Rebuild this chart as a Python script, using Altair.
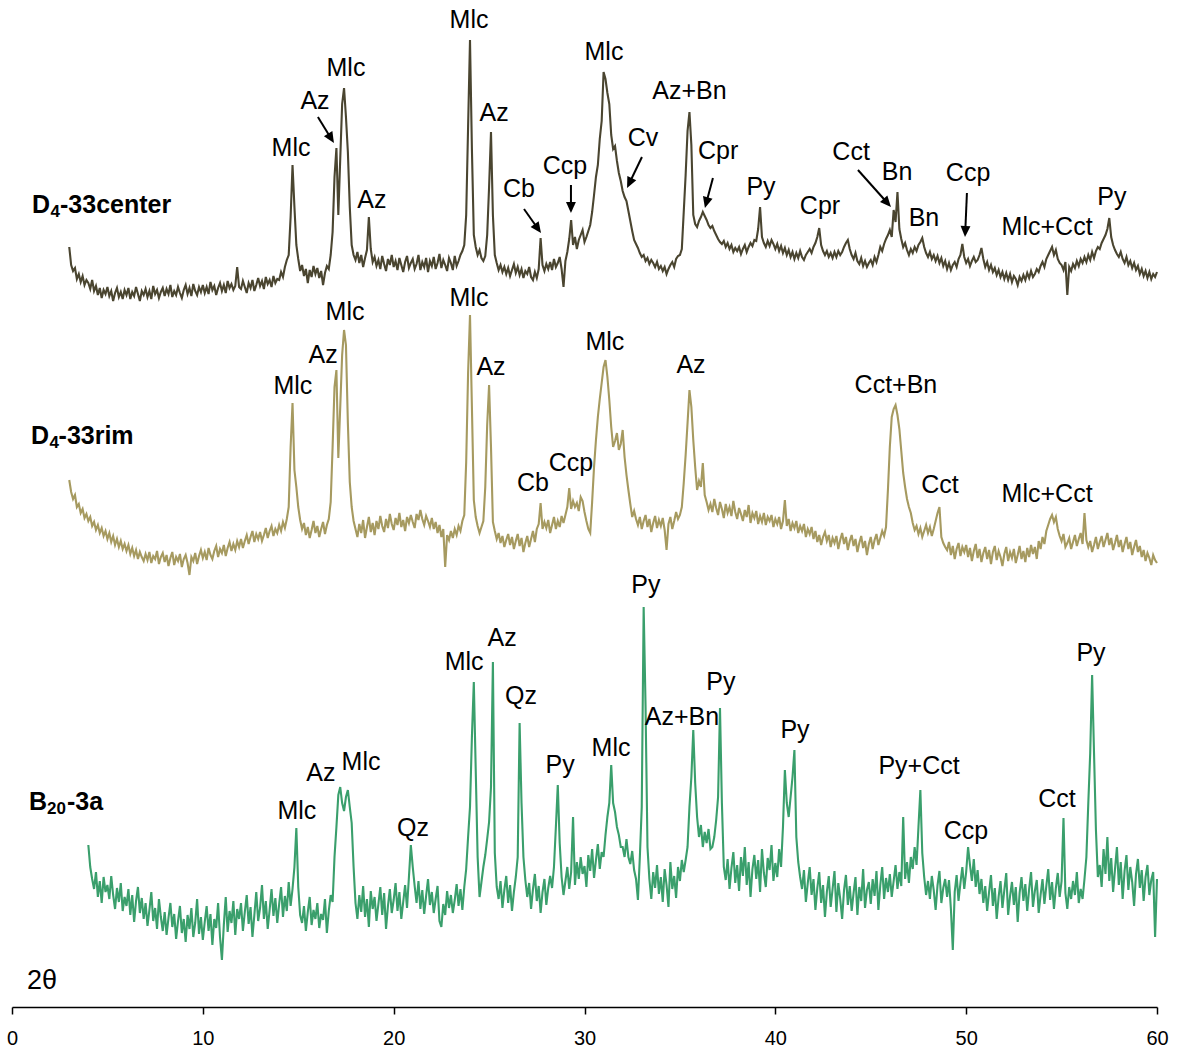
import math
import altair as alt
import pandas as pd

# ---------------- data (stacked XRD patterns, arbitrary intensity units) ----------------
STEP = 0.1  # scan step in degrees 2-theta

center_start = 3.0
center_counts = [
    760, 742, 736, 739, 728, 733, 725, 731, 722, 727,
    724, 718, 727, 716, 721, 712, 719, 709, 717, 713,
    720, 711, 716, 706, 714, 719, 710, 715, 708, 717,
    712, 719, 708, 715, 711, 720, 713, 706, 716, 712,
    718, 710, 716, 708, 721, 713, 717, 709, 715, 719,
    711, 718, 713, 722, 710, 716, 712, 720, 714, 709,
    717, 722, 713, 719, 711, 723, 716, 712, 720, 715,
    722, 714, 720, 713, 725, 717, 721, 712, 719, 724,
    716, 722, 714, 726, 719, 723, 717, 721, 740, 720,
    718, 726, 720, 714, 724, 719, 727, 716, 722, 729,
    721, 726, 718, 730, 723, 727, 720, 731, 724, 728,
    727, 735, 730, 740, 747, 752, 790, 842, 800, 762,
    748, 736, 742, 731, 738, 724, 737, 730, 741, 733,
    739, 729, 736, 722, 734, 741, 738, 752, 775, 830,
    859, 792, 848, 903, 919, 890, 855, 800, 762, 752,
    747, 755, 744, 752, 740, 749, 757, 790, 758, 745,
    750, 741, 747, 738, 751, 743, 736, 748, 742, 752,
    740, 746, 737, 749, 742, 735, 745, 751, 739, 744,
    748, 738, 743, 752, 737, 745, 740, 749, 735, 746,
    741, 750, 738, 744, 753, 739, 747, 742, 736, 749,
    744, 737, 751, 741, 746, 752, 756, 762, 792, 880,
    967, 858, 772, 760, 752, 757, 749, 746, 751, 772,
    820, 875, 792, 752, 744, 737, 742, 735, 740, 733,
    739, 731, 737, 743, 734, 740, 732, 738, 729, 736,
    733, 740, 730, 727, 735, 729, 738, 769, 742, 736,
    743, 738, 745, 737, 748, 740, 744, 750, 738, 720,
    746, 755, 768, 787, 762, 770, 758, 767, 772, 777,
    765, 770, 776, 782, 795, 812, 830, 842, 868, 886,
    935, 928, 914, 903, 872, 858, 861, 846, 834, 826,
    816, 810, 806, 796, 786, 776, 767, 763, 759, 754,
    750, 752, 746, 749, 743, 747, 744, 740, 745, 738,
    741, 736, 740, 733, 738, 742, 745, 740, 748, 751,
    752, 758, 795, 832, 876, 895, 862, 792, 783, 780,
    786, 790, 795, 791, 787, 782, 779, 781, 776, 772,
    768, 765, 763, 766, 760, 764, 758, 762, 755, 759,
    756, 760, 753, 758, 762, 755, 760, 764, 761, 767,
    766, 778, 800, 770, 764, 760, 766, 761, 767, 763,
    758, 763, 756, 761, 754, 759, 752, 757, 750, 755,
    748, 754, 749, 756, 750, 747, 752, 755, 758, 754,
    760, 764, 770, 779, 762, 756, 752, 756, 750, 754,
    749, 755, 750, 756, 752, 755, 760, 764, 767, 758,
    752, 748, 754, 746, 743, 749, 741, 746, 740, 744,
    747, 742, 750, 745, 752, 760, 756, 763, 768, 772,
    777, 770, 797, 785, 815, 778, 768, 760, 764, 757,
    752, 758, 754, 760, 756, 762, 765, 769, 760, 754,
    750, 755, 748, 752, 746, 751, 744, 749, 741, 746,
    738, 744, 737, 742, 745, 740, 748, 752, 763, 750,
    744, 748, 741, 746, 750, 745, 747, 752, 759, 748,
    740, 745, 737, 742, 735, 739, 732, 737, 730, 735,
    728, 734, 727, 733, 725, 731, 728, 722, 730, 726,
    732, 727, 734, 729, 736, 730, 733, 738, 735, 741,
    745, 740, 748, 752, 756, 760, 752, 757, 748, 744,
    742, 737, 745, 712, 740, 736, 743, 739, 746, 741,
    748, 744, 750, 745, 752, 747, 755, 749, 756, 760,
    758, 764, 768, 772, 778, 789, 770, 762, 757, 753,
    750, 755, 748, 744, 750, 742, 746, 739, 744, 737,
    741, 733, 738, 731, 736, 729, 735, 728, 733, 730,
    735,
]

rim_start = 3.0
rim_counts = [
    527, 515, 508, 512, 500, 503, 494, 498, 489, 493,
    486, 490, 481, 485, 477, 482, 474, 479, 471, 476,
    468, 474, 465, 471, 462, 468, 460, 466, 458, 463,
    456, 462, 453, 459, 451, 457, 448, 455, 450, 446,
    453, 447, 455, 444, 451, 448, 456, 443, 450, 454,
    445, 452, 441, 449, 455, 442, 450, 446, 453, 440,
    448, 452, 444, 432, 450, 446, 454, 443, 451, 457,
    449, 455, 447, 459, 452, 448, 456, 461, 450, 458,
    454, 462, 451, 459, 465, 456, 463, 457, 466, 460,
    468, 459, 466, 472, 463, 470, 476, 465, 473, 468,
    475, 466, 472, 479, 469, 476, 481, 471, 478, 474,
    482, 476, 485, 479, 488, 500, 560, 604, 537, 520,
    500, 487, 478, 484, 472, 480, 469, 477, 486, 474,
    481, 470, 478, 485, 473, 482, 488, 505, 560, 620,
    637, 549, 600, 652, 677, 662, 584, 525, 500, 486,
    478, 470, 483, 474, 487, 469, 480, 490, 475, 484,
    472, 486, 478, 491, 481, 475, 488, 479, 493, 483,
    477, 489, 482, 494, 480, 487, 476, 490, 484, 492,
    485, 479, 493, 487, 497, 488, 482, 491, 486, 480,
    489, 478, 485, 474, 482, 470, 478, 440, 472, 467,
    476, 469, 478, 472, 481, 476, 486, 492, 545, 634,
    692, 600, 507, 490, 481, 474, 480, 486, 520, 582,
    622, 560, 485, 476, 468, 474, 464, 471, 460, 467,
    473, 462, 470, 458, 466, 473, 461, 469, 455, 464,
    471, 460, 468, 476, 465, 478, 483, 504, 478, 485,
    479, 487, 474, 482, 490, 478, 486, 480, 491, 484,
    492, 500, 519, 498, 506, 500, 504, 496, 510, 506,
    495, 486, 478, 474, 505, 540, 567, 590, 608, 624,
    640, 647, 630, 607, 580, 560, 566, 574, 557, 563,
    577, 550, 532, 517, 503, 490, 496, 488, 482, 490,
    478, 486, 492, 480, 488, 475, 484, 491, 479, 487,
    481, 489, 477, 457, 483, 490, 478, 486, 495, 488,
    492, 500, 524, 552, 584, 617, 600, 567, 540, 517,
    526, 520, 544, 512, 505, 497, 503, 495, 508, 499,
    492, 505, 498, 489, 503, 494, 500, 491, 506, 495,
    488, 499, 493, 486, 497, 490, 502, 484, 494, 489,
    496, 483, 491, 485, 494, 482, 490, 486, 492, 480,
    488, 483, 490, 478, 486, 507, 481, 488, 476, 484,
    479, 486, 474, 481, 476, 483, 470, 478, 473, 480,
    468, 476, 465, 472, 462, 470, 475, 466, 472, 460,
    469, 464, 471, 458, 467, 474, 463, 470, 457, 466,
    472, 461, 468, 455, 464, 471, 459, 466, 452, 463,
    470, 458, 467, 473, 462, 469, 476, 471, 480, 517,
    560, 590, 598, 602, 592, 578, 556, 534, 520, 508,
    500, 494, 484, 477, 481, 473, 479, 470, 476, 482,
    474, 480, 471, 478, 486, 494, 500, 470, 464, 460,
    457, 465, 452, 461, 448, 458, 464, 451, 460, 455,
    462, 450, 459, 446, 456, 463, 449, 458, 445, 454,
    460, 448, 457, 443, 455, 461, 447, 456, 450, 441,
    453, 460, 446, 455, 449, 458, 444, 452, 461, 448,
    456, 445, 459, 450, 462, 453, 460, 448, 466, 458,
    470, 463, 476, 482, 488, 492, 485, 490, 478, 471,
    466, 473, 460, 464, 469, 458, 465, 472, 461, 468,
    474, 463, 494, 467, 460, 466, 455, 462, 470, 458,
    465, 471, 460, 467, 474, 462, 469, 457, 464, 472,
    460, 467, 455, 463, 470, 458, 465, 452, 460, 467,
    455, 461, 450, 457, 446, 454, 449, 442, 452, 447,
    444,
]

b20_start = 4.0
b20_counts = [
    162, 140, 128, 118, 135, 110, 126, 104, 130, 115,
    122, 108, 131, 112, 98, 119, 105, 124, 96, 110,
    101, 118, 92, 112, 85, 106, 120, 94, 109, 88,
    104, 81, 97, 115, 86, 99, 78, 108, 90, 76,
    95, 72, 89, 104, 80, 93, 68, 86, 101, 74,
    88, 65, 92, 78, 99, 70, 84, 108, 73, 90,
    67, 85, 101, 76, 93, 62, 88, 79, 104, 70,
    47, 82, 110, 75, 96, 84, 106, 72, 98, 88,
    104, 76, 95, 112, 83, 100, 70, 92, 115, 86,
    99, 122, 88, 106, 78, 97, 118, 91, 109, 84,
    103, 120, 90, 111, 96, 125, 101, 118, 140, 179,
    120, 92, 84, 101, 76, 95, 110, 82, 97, 88,
    104, 79, 93, 87, 108, 74, 96, 112, 105, 150,
    180, 212, 220, 204, 196, 210, 217, 200, 184, 140,
    104, 88, 112, 95, 121, 90, 108, 80, 116, 98,
    110, 86, 103, 120, 92, 114, 78, 101, 118, 94,
    107, 124, 96, 115, 88, 105, 122, 99, 130, 162,
    140, 121, 104, 126, 98, 117, 93, 111, 128, 102,
    115, 94, 108, 121, 86, 80, 103, 92, 116, 99,
    112, 94, 107, 123, 101, 118, 97, 120, 138, 170,
    200, 270, 325, 237, 150, 110, 125, 140, 152, 168,
    185, 220, 345, 154, 120, 108, 126, 99, 117, 131,
    104, 122, 96, 115, 130, 150, 284, 204, 150, 127,
    110, 124, 98, 118, 133, 106, 121, 94, 115, 128,
    102, 119, 131, 119, 140, 180, 222, 164, 130, 112,
    126, 140, 118, 135, 190, 122, 145, 128, 150, 133,
    141, 120, 152, 136, 158, 129, 147, 163, 138, 155,
    150, 172, 190, 204, 242, 204, 195, 180, 172, 160,
    160, 150, 168, 150, 143, 156, 137, 128, 107, 150,
    200, 400, 300, 160, 128, 108, 135, 119, 142, 113,
    130, 105, 138, 122, 100, 145, 118, 131, 109, 140,
    126, 147, 135, 147, 160, 200, 230, 277, 224, 190,
    170, 182, 160, 175, 164, 178, 158, 160, 170, 187,
    210, 299, 204, 140, 127, 148, 118, 139, 155, 124,
    142, 116, 150, 131, 160, 122, 145, 110, 138, 152,
    128, 147, 115, 158, 134, 120, 149, 137, 162, 126,
    144, 130, 158, 140, 180, 237, 204, 190, 210, 230,
    257, 170, 145, 130, 118, 137, 105, 124, 140, 112,
    128, 97, 119, 135, 104, 122, 90, 115, 131, 100,
    118, 136, 95, 124, 108, 88, 117, 132, 102, 121,
    96, 114, 130, 92, 120, 106, 138, 99, 117, 125,
    103, 128, 111, 136, 97, 122, 140, 108, 129, 115,
    133, 110, 126, 142, 118, 135, 121, 190, 128, 145,
    124, 150, 138, 160, 142, 180, 217, 154, 130, 112,
    126, 108, 131, 117, 97, 122, 136, 104, 119, 128,
    110, 127, 98, 57, 115, 132, 106, 124, 140, 118,
    135, 160, 142, 126, 148, 120, 137, 113, 128, 104,
    121, 96, 115, 132, 101, 119, 88, 110, 126, 99,
    117, 134, 92, 111, 125, 102, 120, 85, 114, 130,
    106, 123, 96, 118, 135, 100, 116, 127, 94, 112,
    128, 103, 121, 138, 107, 125, 98, 119, 134, 110,
    126, 189, 114, 98, 120, 108, 126, 112, 135, 104,
    118, 108, 128, 150, 204, 254, 332, 254, 177, 130,
    142, 120, 158, 133, 170, 126, 149, 115, 138, 160,
    122, 145, 108, 136, 152, 117, 140, 125, 101, 133,
    148, 119, 137, 106, 130, 142, 112, 127, 135, 70,
    128,
]

sample_ids = ["D4-33center", "D4-33rim", "B20-3a"]
sample_colors = ["#4a4530", "#a69a60", "#3a9f6c"]

# peak annotations (phase, 2-theta, level)
peak_names = ["Mlc", "Az", "Mlc", "Az", "Mlc", "Az", "Cb", "Ccp", "Mlc", "Cv",
              "Az+Bn", "Cpr", "Py", "Cpr", "Cct", "Bn", "Bn", "Ccp", "Mlc+Cct", "Py",
              "Mlc", "Az", "Mlc", "Mlc", "Az", "Cb", "Ccp", "Mlc", "Az", "Cct+Bn",
              "Cct", "Mlc+Cct",
              "Mlc", "Az", "Mlc", "Qz", "Mlc", "Az", "Qz", "Py", "Mlc", "Py",
              "Az+Bn", "Py", "Py", "Py+Cct", "Ccp", "Cct", "Py"]
peak_2theta = [14.62, 15.88, 17.50, 18.86, 23.95, 25.26, 26.57, 28.98, 31.02, 33.07,
               35.50, 37.00, 39.25, 42.34, 43.97, 46.38, 47.79, 50.10, 54.24, 57.64,
               14.72, 16.30, 17.45, 23.95, 25.10, 27.30, 29.29, 31.07, 35.58, 46.32,
               48.63, 54.24,
               14.93, 16.19, 18.29, 21.01, 23.69, 25.68, 26.67, 28.72, 31.39, 33.22,
               35.11, 37.15, 41.03, 47.53, 49.99, 54.76, 56.54]
peak_level = [859, 906, 939, 807, 987, 894, 818, 841, 955, 869,
              916, 856, 820, 801, 855, 835, 789, 834, 780, 810,
              621, 652, 695, 709, 640, 524, 544, 665, 642, 622,
              522, 513,
              196, 234, 245, 179, 345, 369, 311, 242, 259, 422,
              290, 325, 277, 241, 176, 208, 354]

# arrows (from label to peak)
arrow_from_2theta = [16.03, 26.83, 29.29, 33.01, 36.73, 44.33, 50.04]
arrow_from_level = [890, 798, 822, 850, 829, 837, 814]
arrow_to_2theta = [16.87, 27.72, 29.29, 32.23, 36.31, 46.06, 49.94]
arrow_to_level = [864, 774, 794, 819, 799, 800, 770]

# sample names: main letter, subscript, rest
name_main = ["D", "D", "B"]
name_sub = ["4", "4", "20"]
name_rest = ["-33center", "-33rim", "-3a"]
name_main_x = [1.048, 0.996, 0.891]
name_sub_x = [2.015, 1.965, 1.834]
name_rest_x = [2.515, 2.440, 2.880]
name_level = [802, 571, 205]
name_sub_level = [795, 564, 198]

# ---------------- chart ----------------
W, H = 1145, 1007
XMAX, YMAX = 60, 1007
PX_PER_DEG = W / XMAX
PX_PER_UNIT = H / YMAX
FONT = "Liberation Sans"


def trace(name, start, vals):
    return pd.DataFrame({
        "two_theta": [round(start + i * STEP, 2) for i in range(len(vals))],
        "counts": vals,
        "sample": name,
    })


lines_df = pd.concat([
    trace(sample_ids[0], center_start, center_counts),
    trace(sample_ids[1], rim_start, rim_counts),
    trace(sample_ids[2], b20_start, b20_counts),
], ignore_index=True)

x_enc = alt.X(
    "two_theta:Q",
    scale=alt.Scale(domain=[0, XMAX], nice=False, zero=False),
    axis=alt.Axis(
        values=[0, 10, 20, 30, 40, 50, 60], title=None, grid=False,
        domainColor="black", domainWidth=1.5, tickColor="black", tickWidth=1.5,
        tickSize=7, labelFontSize=20, labelFont=FONT, labelColor="black",
        labelPadding=14, labelFlush=False, labelOverlap=False,
    ),
)
y_enc = alt.Y("counts:Q", scale=alt.Scale(domain=[0, YMAX], nice=False, zero=False), axis=None)

lines = alt.Chart(lines_df).mark_line(strokeWidth=2.1, strokeJoin="miter").encode(
    x=x_enc, y=y_enc,
    color=alt.Color("sample:N", scale=alt.Scale(domain=sample_ids, range=sample_colors), legend=None),
)

peaks_df = pd.DataFrame({"two_theta": peak_2theta, "counts": peak_level, "label": peak_names})
peak_text = alt.Chart(peaks_df).mark_text(
    font=FONT, fontSize=25, color="black", align="center", baseline="middle"
).encode(x=x_enc, y=y_enc, text="label:N")

# arrows
rows = []
for x0, y0, x1, y1 in zip(arrow_from_2theta, arrow_from_level, arrow_to_2theta, arrow_to_level):
    dx = (x1 - x0) * PX_PER_DEG
    dy = -(y1 - y0) * PX_PER_UNIT  # screen y grows downward
    L = math.hypot(dx, dy)
    ux, uy = dx / L, dy / L
    ang = math.degrees(math.atan2(ux, -uy)) % 360
    back = 8
    rows.append({
        "two_theta": x0, "counts": y0,
        "x_end": x1 - back * ux / PX_PER_DEG,
        "y_end": y1 + back * uy / PX_PER_UNIT,
        "tip_x": x1, "tip_y": y1, "angle": ang,
    })
arrows_df = pd.DataFrame(rows)

arrow_lines = alt.Chart(arrows_df).mark_rule(color="black", strokeWidth=2).encode(
    x=x_enc, y=y_enc, x2="x_end:Q", y2="y_end:Q"
)
heads_df = pd.DataFrame({
    "two_theta": arrows_df["tip_x"], "counts": arrows_df["tip_y"], "angle": arrows_df["angle"]
})
arrow_heads = alt.Chart(heads_df).mark_point(
    shape="M0,0L-0.45,1L0.45,1Z", filled=True, color="black", opacity=1, size=484, strokeWidth=0
).encode(x=x_enc, y=y_enc, angle=alt.Angle("angle:Q", scale=None))

main_df = pd.DataFrame({"two_theta": name_main_x, "counts": name_level, "label": name_main})
sub_df = pd.DataFrame({"two_theta": name_sub_x, "counts": name_sub_level, "label": name_sub})
rest_df = pd.DataFrame({"two_theta": name_rest_x, "counts": name_level, "label": name_rest})

name_style = dict(font=FONT, fontWeight="bold", color="black", align="left", baseline="middle")
names_main = alt.Chart(main_df).mark_text(fontSize=25, **name_style).encode(x=x_enc, y=y_enc, text="label:N")
names_sub = alt.Chart(sub_df).mark_text(fontSize=17, **name_style).encode(x=x_enc, y=y_enc, text="label:N")
names_rest = alt.Chart(rest_df).mark_text(fontSize=25, **name_style).encode(x=x_enc, y=y_enc, text="label:N")

theta_df = pd.DataFrame({"two_theta": [0.786], "counts": [26], "label": ["2θ"]})
theta_text = alt.Chart(theta_df).mark_text(
    font=FONT, fontSize=27, color="black", align="left", baseline="middle"
).encode(x=x_enc, y=y_enc, text="label:N")

chart = alt.layer(
    lines, peak_text, arrow_lines, arrow_heads, names_main, names_sub, names_rest, theta_text
).properties(
    width=W, height=H,
    padding={"left": 12, "right": 20, "top": 0, "bottom": 45},
    autosize=alt.AutoSizeParams(type="none"),
    background="white",
).configure_view(stroke=None)

chart.save("out.html", embed_options={"renderer": "svg", "actions": False})
